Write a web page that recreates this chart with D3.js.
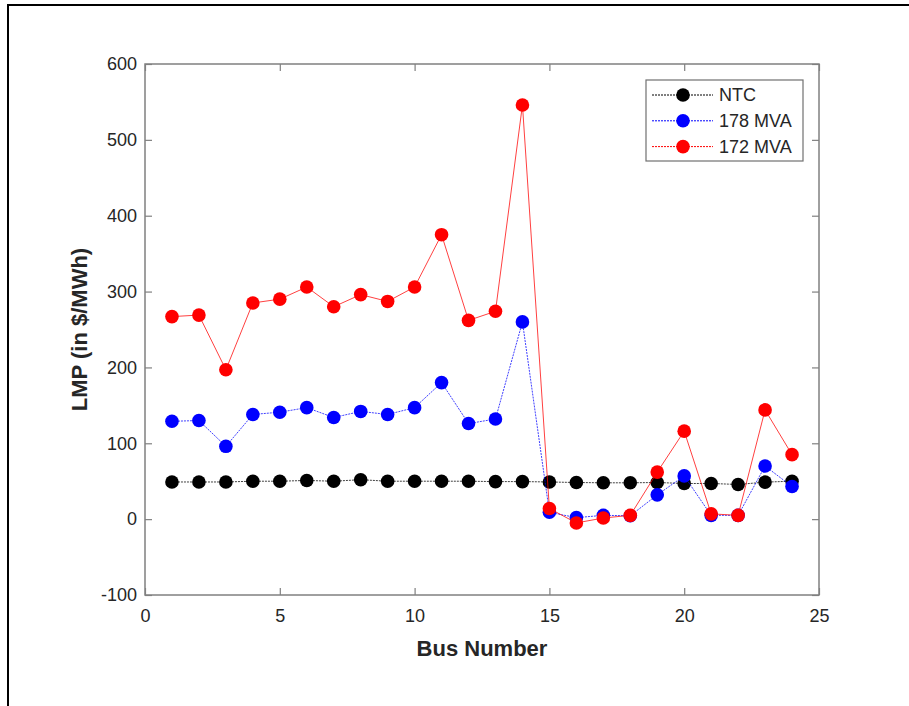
<!DOCTYPE html>
<html>
<head>
<meta charset="utf-8">
<script src="https://cdn.jsdelivr.net/npm/d3@7"></script>
<style>
  body { margin: 0; background: #fff; }
  text { font-family: "Liberation Sans", Arial, sans-serif; fill: #262626; }
</style>
</head>
<body>
<svg id="chart"></svg>
<script>
// bus numbers 1..24
const buses = d3.range(1, 25);

const ntc = [49, 49, 49, 50, 50, 51, 50, 52, 50, 50, 50, 50, 49.5, 49.5,
             49, 48.3, 47.9, 47.9, 48.3, 47, 47, 45.7, 48.8, 50];
const mva178 = [129, 130, 96, 138, 141, 147, 134, 142, 138, 147, 180, 126, 132, 260,
                9, 2, 5, 4.5, 32, 57, 5, 5, 70, 43];
const mva172 = [267, 269, 197, 285, 290, 306, 280, 296, 287, 306, 375, 262, 274, 546,
                14, -5, 1.5, 5, 62, 116, 7, 5, 144, 85];

const xTicks = [0, 5, 10, 15, 20, 25];
const yTicks = [-100, 0, 100, 200, 300, 400, 500, 600];

const series = [
    { name: 'NTC', values: ntc, color: '#000000', dash: '2,1', width: 1 },
    { name: '178 MVA', values: mva178, color: '#0000ff', dash: '2,1', width: 1 },
    { name: '172 MVA', values: mva172, color: '#ff0000', dash: null, width: 1 }
];

const width = 909, height = 706;
const plot = { left: 145, right: 819, top: 64, bottom: 595 };

const svg = d3.select('#chart')
    .attr('width', width)
    .attr('height', height);

// outer frame (only top and left edges fall inside the picture)
svg.append('rect')
    .attr('x', 8).attr('y', 5)
    .attr('width', width + 20).attr('height', height + 20)
    .attr('fill', 'none')
    .attr('stroke', '#000')
    .attr('stroke-width', 2);

const x = d3.scaleLinear().domain([0, 25]).range([plot.left, plot.right]);
const y = d3.scaleLinear().domain([-100, 600]).range([plot.bottom, plot.top]);

const axisColor = '#808080';
const tickLen = 7;
const plain = d => String(d);   // hyphen minus, like the original

const styleAxis = g => {
    g.select('.domain').remove();
    g.selectAll('.tick line').attr('stroke', axisColor).attr('stroke-width', 1.2);
    g.selectAll('.tick text')
        .style('font-size', '18px')
        .attr('fill', '#262626');
};

// bottom / top
svg.append('g')
    .attr('transform', `translate(0,${plot.bottom})`)
    .call(d3.axisBottom(x).tickValues(xTicks).tickSize(-tickLen).tickPadding(14).tickFormat(plain))
    .call(styleAxis);
svg.append('g')
    .attr('transform', `translate(0,${plot.top})`)
    .call(d3.axisTop(x).tickValues(xTicks).tickSize(-tickLen).tickFormat(''))
    .call(styleAxis);

// left / right
svg.append('g')
    .attr('transform', `translate(${plot.left},0)`)
    .call(d3.axisLeft(y).tickValues(yTicks).tickSize(-tickLen).tickPadding(8).tickFormat(plain))
    .call(styleAxis);
svg.append('g')
    .attr('transform', `translate(${plot.right},0)`)
    .call(d3.axisRight(y).tickValues(yTicks).tickSize(-tickLen).tickFormat(''))
    .call(styleAxis);

// box
svg.append('rect')
    .attr('x', plot.left).attr('y', plot.top)
    .attr('width', plot.right - plot.left)
    .attr('height', plot.bottom - plot.top)
    .attr('fill', 'none')
    .attr('stroke', axisColor)
    .attr('stroke-width', 1.5);

const line = d3.line()
    .x((d, i) => x(buses[i]))
    .y(d => y(d));

const marks = svg.append('g');
series.forEach(s => {
    const g = marks.append('g');
    g.append('path')
        .datum(s.values)
        .attr('d', line)
        .attr('fill', 'none')
        .attr('stroke', s.color)
        .attr('stroke-width', s.width)
        .attr('stroke-dasharray', s.dash)
        .attr('stroke-opacity', 0.75);
    g.selectAll('circle')
        .data(s.values)
        .join('circle')
            .attr('cx', (d, i) => x(buses[i]))
            .attr('cy', d => y(d))
            .attr('r', 6.8)
            .attr('fill', s.color);
});

// axis labels
svg.append('text')
    .attr('x', (plot.left + plot.right) / 2)
    .attr('y', 656)
    .attr('text-anchor', 'middle')
    .style('font-size', '22px')
    .style('font-weight', 'bold')
    .text('Bus Number');

svg.append('text')
    .attr('transform', `translate(87,${(plot.top + plot.bottom) / 2}) rotate(-90)`)
    .attr('text-anchor', 'middle')
    .style('font-size', '22px')
    .style('font-weight', 'bold')
    .text('LMP (in $/MWh)');

// legend
const legend = svg.append('g').attr('transform', 'translate(646,80)');
legend.append('rect')
    .attr('width', 157).attr('height', 81)
    .attr('fill', '#fff')
    .attr('stroke', '#707070')
    .attr('stroke-width', 1.2);

const item = legend.selectAll('g.item')
    .data(series)
    .join('g')
        .attr('class', 'item')
        .attr('transform', (d, i) => `translate(0,${15 + i * 25.8})`);
item.append('line')
    .attr('x1', 6).attr('x2', 67)
    .attr('stroke', d => d.color)
    .attr('stroke-width', 1)
    .attr('stroke-dasharray', '2,1');
item.append('circle')
    .attr('cx', 37).attr('r', 6.8)
    .attr('fill', d => d.color);
item.append('text')
    .attr('x', 73)
    .attr('dy', '0.35em')
    .style('font-size', '18px')
    .text(d => d.name);
</script>
</body>
</html>
